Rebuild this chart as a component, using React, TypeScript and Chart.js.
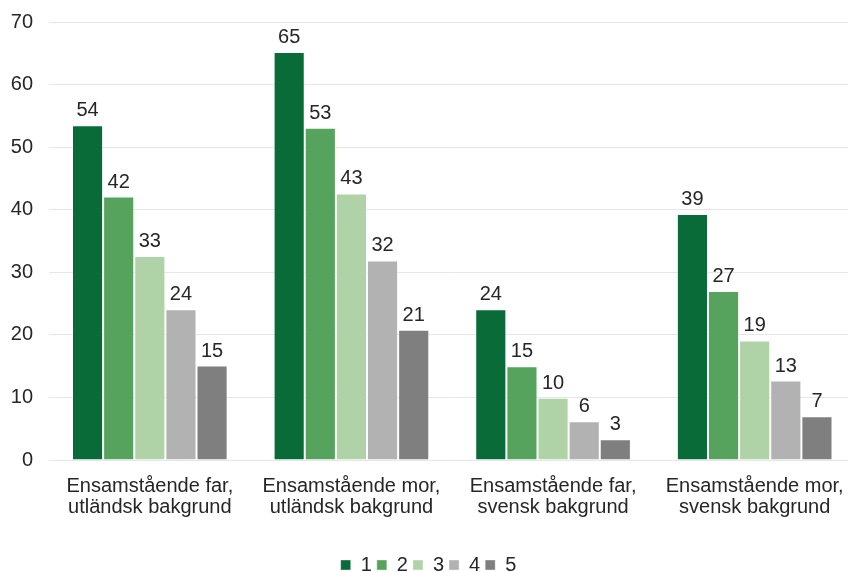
import React, { useEffect, useRef } from "react";
import { Chart, registerables } from "chart.js";

Chart.register(...registerables);

const categories: string[][] = [
  ["Ensamstående far,", "utländsk bakgrund"],
  ["Ensamstående mor,", "utländsk bakgrund"],
  ["Ensamstående far,", "svensk bakgrund"],
  ["Ensamstående mor,", "svensk bakgrund"],
];

const seriesNames = ["1", "2", "3", "4", "5"];
const series1 = [53.5, 65.2, 24.1, 39.3];
const series2 = [42.1, 53.1, 15.0, 27.0];
const series3 = [32.6, 42.6, 9.95, 19.1];
const series4 = [24.1, 31.9, 6.2, 12.7];
const series5 = [15.1, 20.8, 3.3, 7.0];
const colors = ["#096b37", "#55a35c", "#afd3a6", "#b2b2b2", "#7f7f7f"];
const yTicks = [0, 10, 20, 30, 40, 50, 60, 70];

const FONT = "'Liberation Sans', Arial, sans-serif";
const TEXT = "#262626";
const FS = 20;

const valueLabels = {
  id: "valueLabels",
  afterDatasetsDraw(chart: any) {
    const ctx = chart.ctx;
    ctx.save();
    ctx.font = `${FS}px ${FONT}`;
    ctx.fillStyle = TEXT;
    ctx.textAlign = "center";
    ctx.textBaseline = "alphabetic";
    chart.data.datasets.forEach((ds: any, i: number) => {
      const meta = chart.getDatasetMeta(i);
      meta.data.forEach((el: any, j: number) => {
        ctx.fillText(String(Math.round(ds.data[j])), el.x, el.y - 9);
      });
    });
    ctx.restore();
  },
};

export default function App() {
  const ref = useRef<HTMLCanvasElement>(null);
  useEffect(() => {
    document.body.style.margin = "0";
    document.body.style.overflow = "hidden";
    const all = [series1, series2, series3, series4, series5];
    const chart = new Chart(ref.current!, {
      type: "bar",
      data: {
        labels: categories,
        datasets: all.map((d, i) => ({
          label: seriesNames[i],
          data: d,
          backgroundColor: colors[i],
          borderColor: "rgba(255,255,255,0.35)",
          borderWidth: 1,
          categoryPercentage: 0.772,
          barPercentage: 1,
        })),
      },
      options: {
        responsive: false,
        animation: false,
        devicePixelRatio: 1,
        layout: { padding: { top: 22, right: 3, bottom: 0, left: 0 } },
        plugins: {
          tooltip: { enabled: false },
          legend: {
            position: "bottom",
            labels: {
              boxWidth: 10,
              boxHeight: 10,
              padding: 5,
              color: TEXT,
              font: { family: FONT, size: FS },
            },
          },
        },
        scales: {
          x: {
            afterFit(scale: any) {
              scale.height = 90;
            },
            grid: { display: false, drawTicks: false },
            border: { display: false },
            ticks: {
              color: TEXT,
              font: { family: FONT, size: FS, lineHeight: 1.06 },
              padding: 16,
              maxRotation: 0,
            },
          },
          y: {
            min: 0,
            max: 70,
            afterFit(scale: any) {
              scale.width = 49;
              scale.paddingTop = 0;
              scale.paddingBottom = 0;
            },
            afterBuildTicks(scale: any) {
              scale.ticks = yTicks.map((v) => ({ value: v }));
            },
            grid: { color: "#e6e6e6", lineWidth: 1, drawTicks: false },
            border: { display: false },
            ticks: {
              color: TEXT,
              font: { family: FONT, size: FS },
              padding: 16,
            },
          },
        },
      },
      plugins: [valueLabels],
    });
    return () => chart.destroy();
  }, []);
  return (
    <div style={{ position: "fixed", left: 0, top: 0, width: 848, height: 572, overflow: "hidden", background: "#fff" }}>
      <canvas ref={ref} width={860} height={585} style={{ display: "block" }} />
    </div>
  );
}
